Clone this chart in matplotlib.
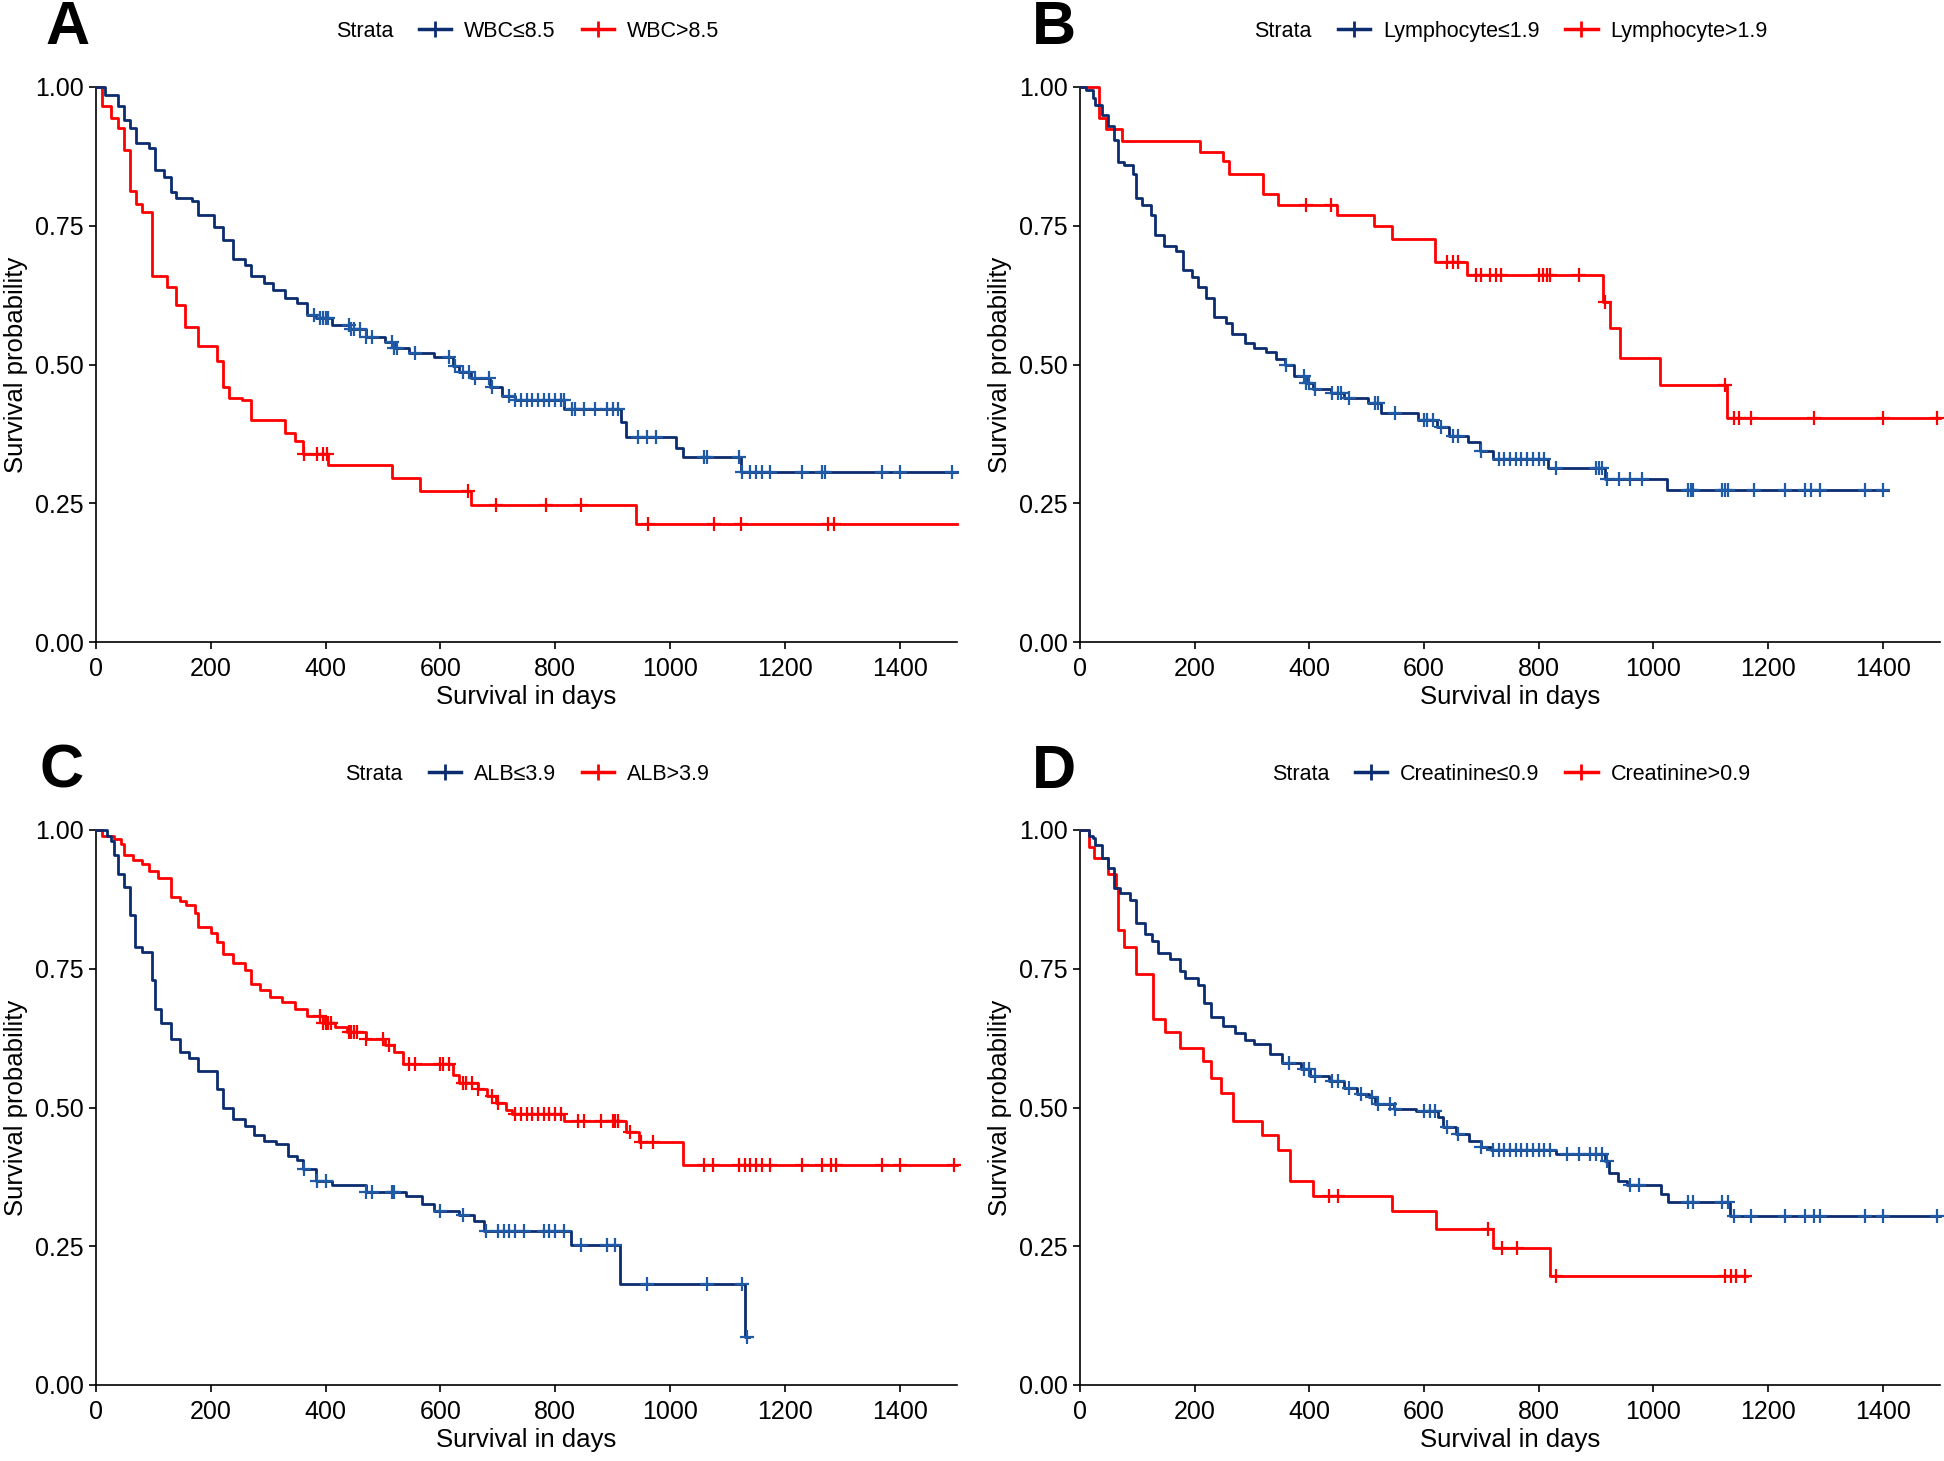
import numpy as np
import matplotlib
matplotlib.use('Agg')
import matplotlib.pyplot as plt
from matplotlib.lines import Line2D

plt.rcParams['font.family'] = ['Liberation Sans', 'DejaVu Sans']

NAVY = '#0b2c6f'
NAVY_MARK = '#1f5aa6'
RED = '#ff0000'

# ---- panel A: WBC ----
a_lo_t = [0, 16, 38, 49, 59, 70, 92, 103, 119, 130, 140, 168, 178, 205, 222, 238, 259, 270, 292, 308,
          330, 351, 368, 384, 411, 443, 470, 503, 519, 546, 589, 622, 632, 654, 686, 708, 730, 816,
          914, 924, 1011, 1022, 1124, 1500]
a_lo_s = [1, 0.985, 0.965, 0.94, 0.926, 0.90, 0.89, 0.85, 0.837, 0.81, 0.80, 0.795, 0.77, 0.747, 0.724,
          0.69, 0.68, 0.66, 0.646, 0.634, 0.62, 0.61, 0.59, 0.584, 0.572, 0.564, 0.55, 0.54, 0.53, 0.52,
          0.513, 0.498, 0.486, 0.475, 0.46, 0.444, 0.436, 0.42, 0.397, 0.37, 0.35, 0.333, 0.307, 0.307]
a_lo_c = [380, 390, 395, 400, 405, 440, 445, 450, 460, 470, 480, 515, 520, 525, 555, 615, 625, 640, 650,
          660, 685, 690, 720, 730, 740, 750, 760, 770, 780, 790, 800, 810, 815, 830, 835, 850, 870, 890,
          900, 910, 945, 960, 975, 1060, 1065, 1120, 1125, 1140, 1150, 1160, 1175, 1230, 1265, 1270,
          1370, 1400, 1492]
a_hi_t = [0, 11, 27, 38, 49, 59, 70, 81, 97, 124, 140, 155, 178, 211, 222, 232, 254, 270, 330, 346, 360,
          405, 516, 565, 654, 940, 1500]
a_hi_s = [1, 0.965, 0.945, 0.926, 0.887, 0.813, 0.79, 0.774, 0.66, 0.64, 0.607, 0.568, 0.533, 0.506,
          0.46, 0.44, 0.436, 0.40, 0.377, 0.362, 0.338, 0.319, 0.296, 0.272, 0.247, 0.212, 0.212]
a_hi_c = [362, 385, 395, 402, 648, 697, 784, 845, 962, 1076, 1124, 1276, 1286]

# ---- panel B: Lymphocyte ----
b_lo_t = [0, 11, 22, 27, 38, 49, 60, 66, 76, 92, 97, 108, 124, 130, 146, 168, 179, 195, 205, 219, 233,
          254, 265, 287, 303, 325, 341, 357, 374, 395, 406, 438, 460, 503, 525, 590, 622, 644, 677, 698,
          720, 817, 915, 1023, 1410]
b_lo_s = [1, 0.995, 0.98, 0.967, 0.95, 0.93, 0.905, 0.865, 0.86, 0.843, 0.80, 0.787, 0.77, 0.734, 0.713,
          0.705, 0.67, 0.658, 0.64, 0.62, 0.586, 0.574, 0.555, 0.539, 0.53, 0.523, 0.51, 0.50, 0.48,
          0.467, 0.456, 0.448, 0.44, 0.43, 0.413, 0.40, 0.387, 0.371, 0.36, 0.344, 0.33, 0.313, 0.294,
          0.274, 0.274]
b_lo_c = [360, 390, 395, 400, 410, 440, 450, 455, 470, 515, 520, 550, 600, 605, 615, 630, 650, 660, 700,
          730, 740, 750, 760, 770, 780, 790, 800, 810, 830, 900, 905, 910, 920, 940, 960, 980, 1060,
          1065, 1070, 1120, 1125, 1130, 1175, 1230, 1265, 1275, 1290, 1370, 1400]
b_hi_t = [0, 34, 46, 73, 209, 249, 260, 319, 346, 449, 512, 545, 620, 675, 913, 924, 942, 1012, 1129, 1500]
b_hi_s = [1, 0.944, 0.924, 0.903, 0.883, 0.866, 0.844, 0.808, 0.788, 0.769, 0.749, 0.727, 0.685, 0.662,
          0.613, 0.566, 0.512, 0.463, 0.403, 0.403]
b_hi_c = [395, 438, 640, 650, 660, 690, 700, 715, 725, 735, 800, 808, 815, 820, 870, 915, 1125, 1140,
          1150, 1170, 1280, 1400, 1495]

# ---- panel C: ALB ----
c_lo_t = [0, 20, 27, 32, 38, 49, 59, 68, 81, 97, 103, 114, 130, 146, 162, 178, 211, 222, 238, 259, 276,
          292, 314, 335, 351, 360, 384, 411, 470, 540, 568, 589, 632, 659, 676, 827, 913, 1130, 1137]
c_lo_s = [1, 0.99, 0.98, 0.955, 0.92, 0.897, 0.847, 0.79, 0.78, 0.73, 0.678, 0.653, 0.624, 0.60, 0.59,
          0.566, 0.533, 0.50, 0.48, 0.467, 0.45, 0.44, 0.434, 0.413, 0.405, 0.39, 0.368, 0.36, 0.347,
          0.34, 0.327, 0.314, 0.306, 0.295, 0.278, 0.252, 0.182, 0.087, 0.087]
c_lo_c = [362, 385, 400, 470, 480, 515, 520, 600, 640, 680, 700, 710, 720, 730, 745, 780, 790, 800, 815,
          845, 890, 905, 960, 1065, 1125, 1135]
c_hi_t = [0, 10, 32, 43, 49, 65, 81, 92, 108, 130, 146, 157, 173, 178, 200, 211, 222, 238, 259, 270, 286,
          303, 324, 346, 368, 395, 416, 438, 470, 503, 519, 535, 622, 632, 665, 681, 697, 714, 724, 816,
          924, 946, 1022, 1500]
c_hi_s = [1, 0.99, 0.983, 0.975, 0.955, 0.946, 0.938, 0.926, 0.913, 0.88, 0.872, 0.864, 0.85, 0.826,
          0.814, 0.798, 0.777, 0.76, 0.748, 0.723, 0.711, 0.70, 0.69, 0.678, 0.665, 0.653, 0.645, 0.636,
          0.624, 0.612, 0.60, 0.578, 0.558, 0.545, 0.533, 0.52, 0.508, 0.496, 0.488, 0.475, 0.455, 0.438,
          0.397, 0.397]
c_hi_c = [390, 395, 400, 405, 410, 440, 445, 450, 455, 470, 500, 510, 545, 555, 600, 605, 615, 640, 645,
          655, 665, 690, 700, 730, 740, 750, 760, 770, 780, 790, 800, 810, 840, 850, 880, 900, 905, 910,
          930, 950, 970, 1060, 1075, 1120, 1130, 1140, 1150, 1160, 1175, 1230, 1265, 1280, 1290, 1370,
          1400, 1495]

# ---- panel D: Creatinine ----
d_lo_t = [0, 16, 22, 27, 38, 49, 60, 70, 87, 98, 114, 125, 136, 157, 174, 184, 206, 217, 228, 249, 271,
          287, 304, 331, 352, 385, 401, 434, 461, 483, 504, 515, 548, 586, 624, 634, 656, 678, 700, 716,
          830, 916, 922, 938, 954, 1014, 1025, 1133, 1500]
d_lo_s = [1, 0.99, 0.985, 0.973, 0.95, 0.932, 0.895, 0.887, 0.874, 0.833, 0.812, 0.80, 0.779, 0.767,
          0.746, 0.734, 0.721, 0.688, 0.663, 0.647, 0.635, 0.622, 0.614, 0.597, 0.58, 0.569, 0.556, 0.548,
          0.535, 0.525, 0.519, 0.507, 0.498, 0.494, 0.482, 0.465, 0.453, 0.44, 0.428, 0.424, 0.416,
          0.403, 0.382, 0.368, 0.36, 0.345, 0.329, 0.304, 0.304]
d_lo_c = [365, 390, 400, 410, 440, 450, 470, 490, 510, 520, 540, 550, 600, 610, 620, 640, 660, 700, 720,
          730, 740, 750, 760, 770, 780, 790, 800, 810, 820, 850, 870, 890, 900, 910, 920, 960, 975, 1060,
          1070, 1120, 1130, 1140, 1170, 1230, 1265, 1280, 1290, 1370, 1400, 1495]
d_hi_t = [0, 16, 24, 49, 62, 66, 76, 98, 127, 149, 174, 214, 228, 246, 266, 318, 345, 366, 407, 544, 621,
          721, 819, 1164]
d_hi_s = [1, 0.97, 0.95, 0.92, 0.895, 0.82, 0.79, 0.74, 0.66, 0.636, 0.607, 0.583, 0.554, 0.527, 0.475,
          0.45, 0.424, 0.368, 0.341, 0.314, 0.281, 0.246, 0.196, 0.196]
d_hi_c = [435, 450, 712, 736, 762, 830, 1125, 1135, 1145, 1160]

letters = ['A', 'B', 'C', 'D']
labels_lo = ['WBC≤8.5', 'Lymphocyte≤1.9', 'ALB≤3.9', 'Creatinine≤0.9']
labels_hi = ['WBC>8.5', 'Lymphocyte>1.9', 'ALB>3.9', 'Creatinine>0.9']
curves = [
    (a_lo_t, a_lo_s, a_lo_c, a_hi_t, a_hi_s, a_hi_c),
    (b_lo_t, b_lo_s, b_lo_c, b_hi_t, b_hi_s, b_hi_c),
    (c_lo_t, c_lo_s, c_lo_c, c_hi_t, c_hi_s, c_hi_c),
    (d_lo_t, d_lo_s, d_lo_c, d_hi_t, d_hi_s, d_hi_c),
]

W, H = 1944, 1461
fig = plt.figure(figsize=(W / 100, H / 100), dpi=100)

# axes boxes in pixels: (left, right, top, bottom)
boxes = [(96, 957, 87, 642), (1080, 1940, 87, 642),
         (96, 957, 830, 1385), (1080, 1940, 830, 1385)]
letter_pos = [(68, 28), (1054, 28), (62, 772), (1054, 772)]


def km(ax, t, s, cens, color, mcolor):
    t = np.asarray(t, float)
    s = np.asarray(s, float)
    ax.step(t, s, where='post', color=color, lw=2.0, clip_on=False, zorder=3)
    c = np.asarray(cens, float)
    idx = np.searchsorted(t, c, side='right') - 1
    ax.plot(c, s[idx], linestyle='none', marker='+', color=mcolor, ms=10, mew=1.6,
            clip_on=False, zorder=4)


for i in range(4):
    l, r, top, bot = boxes[i]
    ax = fig.add_axes([l / W, 1 - bot / H, (r - l) / W, (bot - top) / H])
    lt, ls, lc, ht, hs, hc = curves[i]
    km(ax, ht, hs, hc, RED, RED)
    km(ax, lt, ls, lc, NAVY, NAVY_MARK)

    ax.set_xlim(0, 1500)
    ax.set_ylim(0, 1)
    ax.set_xticks(np.arange(0, 1401, 200))
    ax.set_yticks([0, 0.25, 0.5, 0.75, 1.0])
    ax.set_yticklabels(['0.00', '0.25', '0.50', '0.75', '1.00'])
    for sp in ['top', 'right']:
        ax.spines[sp].set_visible(False)
    for sp in ['left', 'bottom']:
        ax.spines[sp].set_linewidth(1.2)
    ax.tick_params(labelsize=18, width=1.2, length=5, colors='black', pad=4)
    ax.tick_params(axis='x', pad=6)
    ax.set_xlabel('Survival in days', fontsize=18.5)
    ax.set_ylabel('Survival probability', fontsize=18.5)
    ax.xaxis.set_label_coords(0.5, -0.078)
    ax.yaxis.set_label_coords(-0.079, 0.5)

    handles = [Line2D([], [], linestyle='none'),
               Line2D([], [], color=NAVY, lw=2.5, marker='+', ms=12, mew=2),
               Line2D([], [], color=RED, lw=2.5, marker='+', ms=12, mew=2)]
    leg = ax.legend(handles, ['Strata', labels_lo[i], labels_hi[i]], ncol=3,
                    loc='center', bbox_to_anchor=(0.475, 1.1), frameon=False,
                    fontsize=15.5, handlelength=1.5, handletextpad=0.6,
                    columnspacing=1.2, borderaxespad=0)

    fig.text(letter_pos[i][0] / W, 1 - letter_pos[i][1] / H, letters[i],
             fontsize=44, fontweight='bold', ha='center', va='center')

fig.savefig('out.png', dpi=100)
